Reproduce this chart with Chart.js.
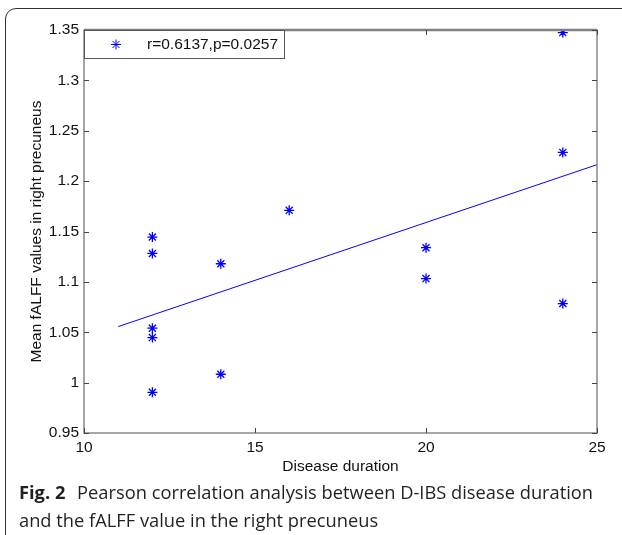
<!DOCTYPE html>
<html lang="en">
<head>
<meta charset="UTF-8">
<title>Disease duration vs fALFF</title>
<script src="https://cdn.jsdelivr.net/npm/chart.js"></script>
<style>
  body { margin: 0; background: #fff; }
  #wrap { position: relative; width: 622px; height: 535px; overflow: hidden; }
  #frame {
    position: absolute; left: 5px; top: 8px; width: 700px; height: 600px;
    border: 1px solid #333; border-radius: 11px; box-sizing: border-box;
  }
  #chart { position: absolute; left: 0; top: 0; }
  #caption {
    position: absolute; left: 19px; top: 478px; width: 600px;
    font-family: "Open Sans", "Noto Sans", sans-serif; font-size: 18.3px;
    line-height: 28px; color: #231f20; white-space: nowrap;
  }
  #caption b { font-weight: 700; margin-right: 7px; }
</style>
</head>
<body>
<div id="wrap">
  <div id="frame"></div>
  <canvas id="chart" width="622" height="535"></canvas>
  <div id="caption"><b>Fig. 2</b> Pearson correlation analysis between D-IBS disease duration<br>and the fALFF value in the right precuneus</div>
</div>
<script>
// dados
const duracao = [12, 12, 12, 12, 12, 14, 14, 16, 20, 20, 24, 24, 24];
const falff   = [1.1445, 1.1282, 1.054, 1.0447, 0.9904, 1.118, 1.0083, 1.171, 1.1339, 1.1033, 1.3474, 1.2285, 1.0785];
const retaX = [11, 25];
const retaY = [1.0556, 1.2163];
const xTicks = [10, 15, 20, 25];
const yTicks = [0.95, 1, 1.05, 1.1, 1.15, 1.2, 1.25, 1.3, 1.35];
const legenda = 'r=0.6137,p=0.0257';

const azul = '#0000ff';
const fonte = { family: '"Liberation Sans", Arial, sans-serif', size: 15.5 };

// caixa da legenda no canto superior esquerdo
const legendaBox = {
  id: 'legendaBox',
  afterDatasetsDraw(chart) {
    const { ctx, chartArea: a } = chart;
    ctx.save();
    ctx.fillStyle = '#fff';
    ctx.strokeStyle = '#555';
    ctx.lineWidth = 1;
    ctx.fillRect(a.left, a.top, 200, 28);
    ctx.strokeRect(a.left + 0.5, a.top + 0.5, 200, 28);
    ctx.strokeStyle = azul;
    ctx.fillStyle = azul;
    Chart.helpers.drawPoint(ctx, { pointStyle: 'star', radius: 5, borderWidth: 1.3, rotation: 0 }, a.left + 32, a.top + 14.5);
    ctx.fillStyle = '#111';
    ctx.font = '15.5px "Liberation Sans", Arial, sans-serif';
    ctx.textBaseline = 'middle';
    ctx.fillText(legenda, a.left + 63, a.top + 15);
    ctx.restore();
  }
};

// moldura e ticks para dentro, estilo matlab
const eixosMatlab = {
  id: 'eixosMatlab',
  afterDatasetsDraw(chart) {
    const { ctx, chartArea: a, scales } = chart;
    ctx.save();
    ctx.strokeStyle = '#808080';
    ctx.lineWidth = 1.4;
    ctx.strokeRect(a.left, a.top, a.right - a.left, a.bottom - a.top);
    ctx.lineWidth = 2.4;
    ctx.beginPath();
    ctx.moveTo(a.left, a.top); ctx.lineTo(a.right, a.top);
    ctx.stroke();
    ctx.strokeStyle = '#444';
    ctx.lineWidth = 1;
    const tl = 5;
    ctx.beginPath();
    xTicks.forEach(v => {
      const px = Math.round(scales.x.getPixelForValue(v)) + 0.5;
      ctx.moveTo(px, a.bottom); ctx.lineTo(px, a.bottom - tl);
      ctx.moveTo(px, a.top); ctx.lineTo(px, a.top + tl);
    });
    yTicks.forEach(v => {
      const py = Math.round(scales.y.getPixelForValue(v)) + 0.5;
      ctx.moveTo(a.left, py); ctx.lineTo(a.left + tl, py);
      ctx.moveTo(a.right, py); ctx.lineTo(a.right - tl, py);
    });
    ctx.stroke();
    ctx.restore();
  }
};

new Chart(document.getElementById('chart'), {
  data: {
    datasets: [
      {
        type: 'scatter',
        label: legenda,
        data: duracao.map((x, i) => ({ x: x, y: falff[i] })),
        pointStyle: 'star',
        pointRadius: 5,
        pointBorderColor: azul,
        pointBackgroundColor: azul,
        pointBorderWidth: 1.3
      },
      {
        type: 'line',
        label: 'ajuste',
        data: retaX.map((x, i) => ({ x: x, y: retaY[i] })),
        borderColor: azul,
        borderWidth: 1,
        pointRadius: 0,
        fill: false
      }
    ]
  },
  options: {
    responsive: false,
    animation: false,
    layout: { padding: { left: 0, right: 25, top: 30, bottom: 0 } },
    plugins: { legend: { display: false }, tooltip: { enabled: false } },
    scales: {
      x: {
        type: 'linear',
        min: 10, max: 25,
        afterBuildTicks: s => { s.ticks = xTicks.map(v => ({ value: v })); },
        afterFit: s => { s.height = 102; },
        grid: { display: false, drawTicks: false },
        border: { display: false },
        ticks: { font: fonte, color: '#111', padding: 5, maxRotation: 0, autoSkip: false },
        title: { display: true, text: 'Disease duration', font: fonte, color: '#111', padding: { top: 0, bottom: 58.7 } }
      },
      y: {
        type: 'linear',
        min: 0.95, max: 1.35,
        afterBuildTicks: s => { s.ticks = yTicks.map(v => ({ value: v })); },
        afterFit: s => { s.width = 84; },
        grid: { display: false, drawTicks: false },
        border: { display: false },
        ticks: {
          font: fonte, color: '#111', padding: 5, autoSkip: false,
          callback: v => String(parseFloat(Number(v).toFixed(2)))
        },
        title: { display: true, text: 'Mean fALFF values in right precuneus', font: fonte, color: '#111', padding: { top: 27.7, bottom: 0 } }
      }
    }
  },
  plugins: [eixosMatlab, legendaBox]
});
</script>
</body>
</html>
